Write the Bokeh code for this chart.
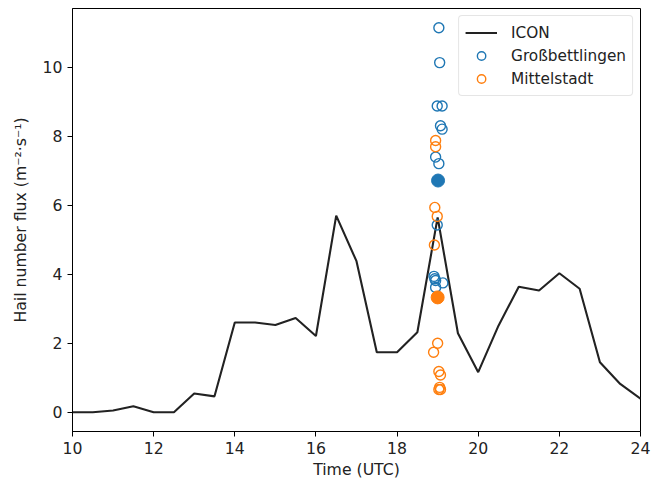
from bokeh.plotting import figure
from bokeh.models import Range1d, Legend, LegendItem, FixedTicker
from bokeh.embed import file_html
from bokeh.resources import INLINE

# ICON model time series (UTC hours)
time_h = [10, 10.5, 11, 11.5, 12, 12.5, 13, 13.5, 14, 14.5, 15, 15.5, 16, 16.5,
          17, 17.5, 18, 18.5, 19, 19.5, 20, 20.5, 21, 21.5, 22, 22.5, 23, 23.5, 24]
icon_flux = [0, 0, 0.05, 0.17, 0, 0, 0.54, 0.46, 2.6, 2.6, 2.53, 2.73, 2.21, 5.70,
             4.38, 1.74, 1.74, 2.32, 5.65, 2.29, 1.16, 2.51, 3.64, 3.53, 4.03, 3.58,
             1.45, 0.82, 0.39]

# Großbettlingen observations
gb_time = [19.03, 19.05, 18.99, 19.11, 19.07, 19.11, 18.95, 19.03, 18.99, 18.91,
           18.93, 18.95, 19.13, 18.95]
gb_flux = [11.15, 10.14, 8.88, 8.88, 8.31, 8.21, 7.40, 7.21, 5.43, 3.94,
           3.87, 3.82, 3.75, 3.62]
gb_mean_time = [19.01]
gb_mean_flux = [6.72]

# Mittelstadt observations
mi_time = [18.95, 18.95, 18.93, 18.99, 18.92, 19.0, 18.9, 19.03, 19.07, 19.05,
           19.03, 19.07]
mi_flux = [7.88, 7.70, 5.94, 5.68, 4.85, 2.0, 1.74, 1.18, 1.08, 0.72, 0.66, 0.66]
mi_mean_time = [19.0]
mi_mean_flux = [3.33]

x_ticks = [10, 12, 14, 16, 18, 20, 22, 24]
y_ticks = [0, 2, 4, 6, 8, 10]

BLUE = "#1f77b4"
ORANGE = "#ff7f0e"
FONT = "DejaVu Sans"
FS = "15.7px"

p = figure(width=658, height=481, output_backend="svg", toolbar_location=None,
           x_range=Range1d(10, 24), y_range=Range1d(-0.56, 11.71),
           min_border_left=72, min_border_right=18, min_border_top=8,
           min_border_bottom=49)

p.xgrid.visible = False
p.ygrid.visible = False
p.outline_line_color = "black"
p.outline_line_width = 1
p.outline_line_alpha = 1
p.background_fill_color = "white"
p.border_fill_color = "white"

for ax in (p.xaxis[0], p.yaxis[0]):
    ax.major_label_text_font = FONT
    ax.major_label_text_font_size = FS
    ax.major_label_text_color = "#222222"
    ax.axis_label_text_font = FONT
    ax.axis_label_text_font_size = FS
    ax.axis_label_text_font_style = "normal"
    ax.axis_label_text_color = "#222222"
    ax.major_tick_out = 5
    ax.major_tick_in = 0
    ax.minor_tick_out = 0
    ax.minor_tick_in = 0
    ax.axis_line_color = "black"
    ax.major_tick_line_color = "black"

p.xaxis.ticker = FixedTicker(ticks=x_ticks)
p.yaxis.ticker = FixedTicker(ticks=y_ticks)
p.xaxis.axis_label = "Time (UTC)"
p.yaxis.axis_label = "Hail number flux (m⁻²·s⁻¹)"
p.xaxis.major_label_standoff = 5
p.yaxis.major_label_standoff = 5
p.xaxis.axis_label_standoff = 3
p.yaxis.axis_label_standoff = 10

r_line = p.line(time_h, icon_flux, line_color="#222222", line_width=2.1)
r_gb = p.scatter(gb_time, gb_flux, marker="circle", size=10, fill_color=None,
                 line_color=BLUE, line_width=1.4)
r_mi = p.scatter(mi_time, mi_flux, marker="circle", size=10, fill_color=None,
                 line_color=ORANGE, line_width=1.4)
p.scatter(gb_mean_time, gb_mean_flux, marker="circle", size=13,
          fill_color=BLUE, line_color=BLUE)
p.scatter(mi_mean_time, mi_mean_flux, marker="circle", size=13,
          fill_color=ORANGE, line_color=ORANGE)

legend = Legend(items=[LegendItem(label="ICON", renderers=[r_line]),
                       LegendItem(label="Großbettlingen", renderers=[r_gb]),
                       LegendItem(label="Mittelstadt", renderers=[r_mi])],
                location="top_right")
legend.margin = 7
legend.padding = 6
legend.spacing = 2
legend.label_text_font = FONT
legend.label_text_font_size = "15.3px"
legend.label_text_color = "#222222"
legend.label_standoff = 14
legend.glyph_width = 32
legend.glyph_height = 21
legend.label_height = 21
legend.border_line_color = "#cccccc"
legend.border_line_width = 1
legend.border_radius = 4
legend.background_fill_alpha = 0.85
p.add_layout(legend)

open("out.html", "w").write(file_html(p, INLINE))
